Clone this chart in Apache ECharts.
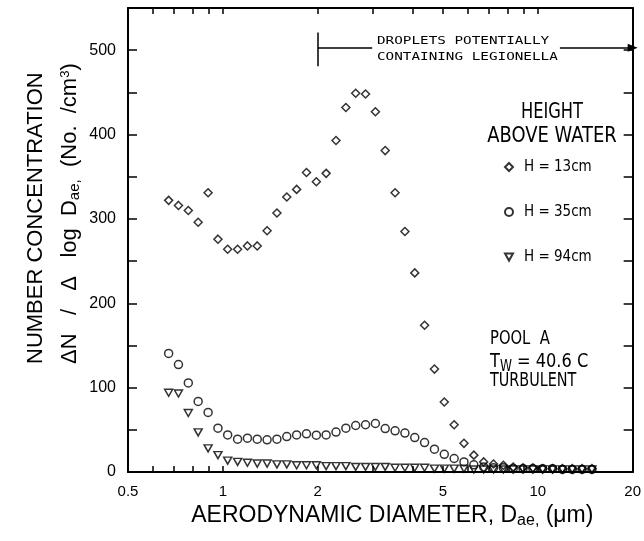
<!DOCTYPE html>
<html><head><meta charset="utf-8">
<script src="https://cdn.jsdelivr.net/npm/echarts@6/dist/echarts.min.js"></script>
<style>html,body{margin:0;padding:0;background:#fff}#c{width:644px;height:541px}</style>
</head><body><div id="c"></div>
<script>
// ---- data ----
const diameters = [0.673,0.723,0.777,0.835,0.898,0.965,1.036,1.114,1.197,1.286,1.382,1.485,1.596,1.715,1.843,1.981,2.128,2.287,2.458,2.641,2.838,3.050,3.277,3.522,3.785,4.067,4.370,4.697,5.047,5.424,5.828,6.263,6.730,7.232,7.772,8.352,8.975,9.645,10.36,11.14,11.97,12.86,13.82,14.85];
const h13 = [322,316,310,296,331,276,264,264,268,268,286,307,326,335,355,344,354,393,432,449,448,427,381,331,285,236,174,122,83,56,34,20,12,9.5,8,6,5,5,4,4,4,4,4,4];
const h35 = [140.5,127.4,105.6,83.7,70.6,52,44,38.9,40.1,38.9,38.1,38.9,42,44,45.2,43.7,44,47.3,52,55.1,56,57.5,51.5,48.8,46.1,40.8,34.9,27,21,16,12,8.5,6,5,5,4,4,4,4,4,3,3,3,3];
const h94 = [94,93,70,47,28,20,13.5,12,11,10,10,9,9,8,8,8,7,7,7,6,6,6,6,5,5,5,5,4,4,4,4,3,3,3,3,3,3,3,3,3,3,3,3,3];
const seriesNames = ['H = 13cm','H = 35cm','H = 94cm'];
const xLabelValues = [0.5,1,2,5,10,20];
const xTickValues = [0.6,0.7,0.8,0.9,1,2,3,4,5,6,7,8,9,10];
const yLabelValues = [0,100,200,300,400,500];
// bracket "droplets potentially containing Legionella" (data coords)
const bracketStart = 2, bracketTextEnd = 2.98, arrowStart = 11.75, arrowEnd = 20;
const bracketY = 503, bracketYLow = 481, bracketYHigh = 521;
const X_MIN = 0.5, X_MAX = 20, Y_MAX = 550, Y_STEP = 50;

const FONT = "'Liberation Sans', Arial, sans-serif";
const NARROW = "'Liberation Sans Narrow', 'DejaVu Sans Condensed', sans-serif";
const MONO = "'DejaVu Sans Mono', 'Liberation Mono', monospace";
const lg = Math.log10;

const chart = echarts.init(document.getElementById('c'), null, {renderer:'canvas'});

function decoAxis(pos, showLabels, name) {
  return {
    type:'value', gridIndex:0, position:pos, min:lg(X_MIN), max:lg(X_MAX),
    axisLine:{show:true, onZero:false, lineStyle:{color:'#000', width:2}},
    axisTick:{show:true, inside:true, length:6, customValues:xTickValues.map(lg), lineStyle:{color:'#000', width:1.5}},
    axisLabel:{show:showLabels, customValues:xLabelValues.map(lg), margin:12, color:'#000', fontFamily:FONT, fontSize:15,
      formatter: v => String(+Math.pow(10, v).toPrecision(2))},
    splitLine:{show:false},
    name: name || '', nameLocation:'middle', nameGap:31,
    nameTextStyle:{fontFamily:FONT, fontSize:23, color:'#000', padding:[0,0,0,24],
      rich:{s:{fontFamily:FONT, fontSize:16, color:'#000', padding:[10,0,0,0]}}}
  };
}
function yAx(pos, showLabels) {
  return {
    type:'value', min:0, max:Y_MAX, interval:Y_STEP, position:pos,
    axisLine:{show:true, onZero:false, lineStyle:{color:'#000', width:2}},
    axisTick:{show:true, inside:true, length:9, lineStyle:{color:'#000', width:1.5}},
    axisLabel:{show:showLabels, margin:12, color:'#000', fontFamily:FONT, fontSize:16,
      formatter: v => yLabelValues.includes(v) ? String(v) : ''},
    splitLine:{show:false}
  };
}
const symbols = ['diamond','circle','path://M0,0L10,0L5,9Z'];
const sizes = [[8,8],[8,8],[8,7]];
const values = [h13, h35, h94];

const bracketMarkLine = {
  silent:true, symbol:['none','none'], animation:false,
  label:{show:false}, emphasis:{disabled:true},
  lineStyle:{color:'#000', width:1.5, type:'solid'},
  data:[
    [{coord:[bracketStart, bracketYLow]}, {coord:[bracketStart, bracketYHigh]}],
    [{coord:[bracketStart, bracketY]}, {coord:[bracketTextEnd, bracketY]}],
    [{coord:[arrowStart, bracketY]}, {coord:[arrowEnd, bracketY], symbol:'triangle', symbolSize:[8,10]}]
  ]
};

const txt = (x,y,text,font,size,align,extra) => Object.assign({type:'text', x, y, z:50,
  style:{text, fontFamily:font, fontSize:size, fill:'#000', align:align||'left', verticalAlign:'middle'}}, extra||{});

chart.setOption({
  animation:false,
  backgroundColor:'#fff',
  grid:{left:128, right:10, top:8, bottom:69},
  xAxis:[
    {type:'log', logBase:10, min:X_MIN, max:X_MAX, position:'bottom', gridIndex:0,
     axisLine:{show:false}, axisTick:{show:false}, axisLabel:{show:false}, splitLine:{show:false}},
    decoAxis('bottom', true, 'AERODYNAMIC DIAMETER, D{s|ae,} (μm)'),
    decoAxis('top', false)
  ],
  yAxis:[yAx('left', true), yAx('right', false)],
  legend:{orient:'vertical', left:504, top:158, padding:0, itemWidth:8, itemHeight:8, itemGap:27,
    selectedMode:false, data:seriesNames,
    textStyle:{fontFamily:NARROW, fontSize:15, color:'#000', lineHeight:18, padding:[0,0,0,6]}},
  series: seriesNames.map((name,k) => Object.assign({
    type:'scatter', name, xAxisIndex:0, yAxisIndex:0,
    data: diameters.map((d,i) => [d, values[k][i]]),
    symbol:symbols[k], symbolSize:sizes[k],
    itemStyle:{color:'rgba(0,0,0,0)', borderColor:'#000', borderWidth:1.5},
    emphasis:{disabled:true}
  }, k === 0 ? {markLine:bracketMarkLine} : {})),
  graphic:[
    txt(377, 41.5, 'DROPLETS POTENTIALLY', MONO, 11, 'left', {scaleX:1.3}),
    txt(377, 57.5, 'CONTAINING LEGIONELLA', MONO, 11, 'left', {scaleX:1.3}),
    txt(552, 113, 'HEIGHT', NARROW, 21, 'center', {scaleX:0.86}),
    txt(552, 137, 'ABOVE WATER', NARROW, 21, 'center', {scaleX:0.95}),
    txt(490, 339, 'POOL  A', NARROW, 20, 'left', {scaleX:0.82}),
    {type:'text', x:490, y:362, z:50, scaleX:0.9, style:{text:'T{s|W} = 40.6 C', fontFamily:NARROW, fontSize:20, fill:'#000', verticalAlign:'middle',
      rich:{s:{fontFamily:NARROW, fontSize:15, fill:'#000', padding:[10,0,0,0]}}}},
    txt(490, 381, 'TURBULENT', NARROW, 20, 'left', {scaleX:0.8}),
    txt(36, 364, 'NUMBER CONCENTRATION', FONT, 22, 'left', {rotation:Math.PI/2}),
    {type:'text', x:70, y:364, z:50, rotation:Math.PI/2,
     style:{text:'ΔN   /   Δ   log  D{s|ae,}  (No.  /cm{p|3})', fontFamily:FONT, fontSize:22, fill:'#000', align:'left', verticalAlign:'middle',
      rich:{s:{fontFamily:FONT, fontSize:15, fill:'#000', padding:[10,0,0,0]},
            p:{fontFamily:FONT, fontSize:13, fill:'#000', padding:[0,0,10,0]}}}}
  ]
});
</script></body></html>
